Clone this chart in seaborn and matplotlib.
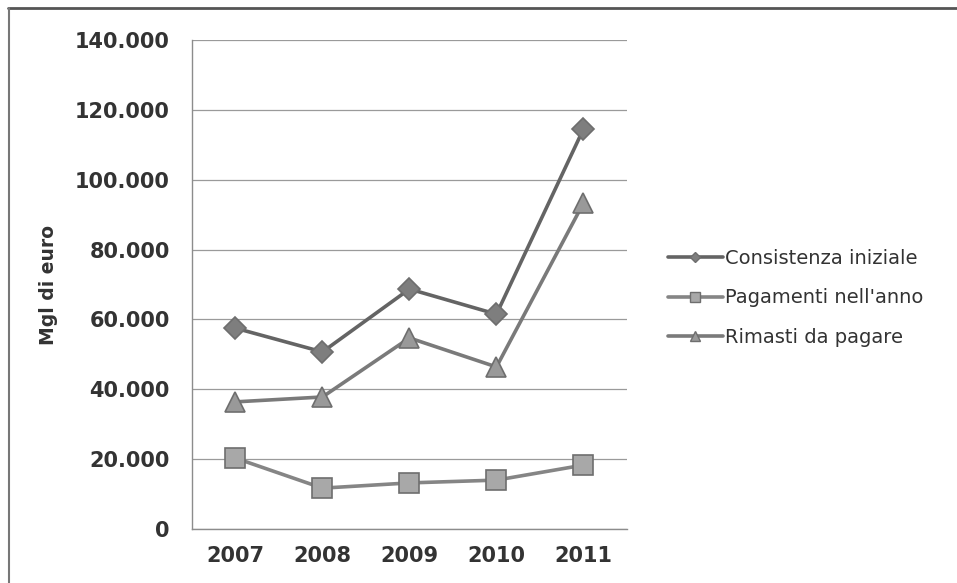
import matplotlib
matplotlib.use("Agg")
import matplotlib.pyplot as plt
import matplotlib.ticker as mticker
from matplotlib.lines import Line2D
import seaborn as sns
import pandas as pd

# data (migliaia di euro)
years = ["2007", "2008", "2009", "2010", "2011"]
consistenza = [57500, 50700, 68700, 61500, 114500]
pagamenti = [20300, 11700, 13200, 14000, 18300]
rimasti = [36400, 37800, 54700, 46400, 93300]
series_names = ["Consistenza iniziale", "Pagamenti nell'anno", "Rimasti da pagare"]

rows = []
for name, values in zip(series_names, [consistenza, pagamenti, rimasti]):
    for y, v in zip(years, values):
        rows.append({"anno": y, "valore": v, "serie": name})
df = pd.DataFrame(rows)

sns.set_style("white")
plt.rcParams["font.family"] = ["DejaVu Sans"]

fig = plt.figure(figsize=(9.57, 5.83), dpi=100)
ax = fig.add_axes([0.2006, 0.0926, 0.4545, 0.8388])

palette = {series_names[0]: "#646464", series_names[1]: "#858585", series_names[2]: "#7a7a7a"}
markers = {series_names[0]: "D", series_names[1]: "s", series_names[2]: "^"}
face = {series_names[0]: "#7e7e7e", series_names[1]: "#a8a8a8", series_names[2]: "#999999"}
msize = {series_names[0]: 11, series_names[1]: 14, series_names[2]: 15}

sns.lineplot(data=df, x="anno", y="valore", hue="serie", style="serie",
             palette=palette, markers=markers, dashes=False, linewidth=2.6,
             ax=ax, legend=False)

# restyle markers per series
for line, name in zip(ax.get_lines(), series_names):
    line.set_markerfacecolor(face[name])
    line.set_markeredgecolor("#6e6e6e")
    line.set_markersize(msize[name])
    line.set_markeredgewidth(1.2)

ax.set_xlim(-0.5, len(years) - 0.5)
ax.set_ylim(0, 140000)
ax.yaxis.set_major_locator(mticker.MultipleLocator(20000))
ax.yaxis.set_major_formatter(mticker.FuncFormatter(lambda v, p: f"{int(v):,}".replace(",", ".")))
ax.grid(axis="y", color="#9a9a9a", linewidth=0.9)
ax.set_axisbelow(True)

for side in ["top", "right"]:
    ax.spines[side].set_visible(False)
ax.spines["left"].set_color("#8c8c8c")
ax.spines["bottom"].set_color("#8c8c8c")
ax.spines["left"].set_linewidth(1.0)
ax.spines["bottom"].set_linewidth(1.0)

ax.tick_params(axis="x", which="major", length=0, pad=12)
ax.xaxis.set_minor_locator(mticker.FixedLocator([i + 0.5 for i in range(len(years))]))
ax.tick_params(axis="x", which="minor", length=6, color="#8c8c8c", direction="out")
ax.tick_params(axis="y", length=6, color="#8c8c8c", direction="out", pad=10)

for lab in ax.get_xticklabels() + ax.get_yticklabels():
    lab.set_fontsize(15)
    lab.set_fontweight("bold")
    lab.set_color("#333333")

ax.set_xlabel("")
ax.set_ylabel("Mgl di euro", fontsize=13.5, fontweight="bold", color="#333333", labelpad=12)

handles = [Line2D([0], [0], color=palette[n], linewidth=2.6, marker=markers[n],
                  markerfacecolor=face[n], markeredgecolor="#6e6e6e",
                  markersize=msize[n] * 0.5) for n in series_names]
fig.legend(handles, series_names, loc="center left", bbox_to_anchor=(0.680, 0.489),
           frameon=False, fontsize=14, handlelength=2.8, handletextpad=0.1,
           labelspacing=1.05, labelcolor="#333333")

# scanned frame: top and left edges only
fig.add_artist(Line2D([0.008, 1.0], [0.987, 0.987], transform=fig.transFigure,
                      color="#555555", linewidth=2))
fig.add_artist(Line2D([0.009, 0.009], [0.0, 0.987], transform=fig.transFigure,
                      color="#777777", linewidth=1.5))

fig.savefig("out.png", dpi=100)
